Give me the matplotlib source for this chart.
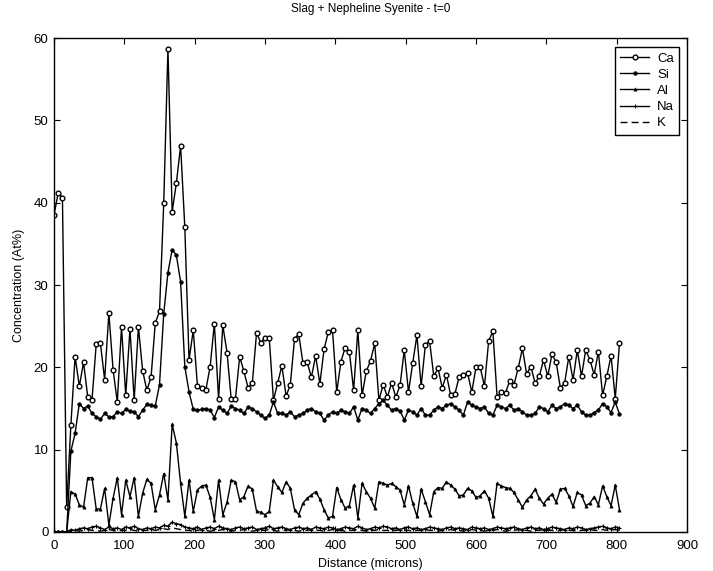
import numpy as np
import matplotlib
matplotlib.use("Agg")
import matplotlib.pyplot as plt

plt.rcParams['font.family'] = ['Liberation Sans', 'DejaVu Sans']

step = 6  # microns between analysis points

ca = [38.5, 41.2, 40.6, 3.0, 13.0, 21.3, 17.7, 20.6, 16.4, 16.0,
      22.8, 22.9, 18.5, 26.6, 19.7, 15.8, 24.9, 16.6, 24.7, 16.0,
      24.9, 19.6, 17.2, 18.8, 25.4, 26.8, 39.9, 58.7, 38.9, 42.4,
      46.9, 37.0, 20.9, 24.5, 17.7, 17.5, 17.3, 20.1, 25.3, 16.2,
      25.1, 21.8, 16.1, 16.2, 21.3, 19.5, 17.5, 18.1, 24.2, 23.0,
      23.6, 23.6, 16.0, 18.1, 20.2, 16.5, 17.9, 23.5, 24.0, 20.5,
      20.6, 18.8, 21.4, 18.0, 22.2, 24.3, 24.5, 17.0, 20.7, 22.4,
      21.9, 17.2, 24.5, 16.6, 19.5, 20.8, 22.9, 16.0, 17.9, 16.4,
      18.1, 16.4, 17.8, 22.1, 17.0, 20.5, 23.9, 17.7, 22.7, 23.2,
      18.9, 19.9, 17.5, 19.1, 16.6, 16.8, 18.8, 19.1, 19.3, 17.0,
      20.0, 20.0, 17.7, 23.2, 24.4, 16.4, 17.0, 16.9, 18.4, 17.9,
      19.9, 22.3, 19.2, 20.1, 18.1, 18.9, 20.9, 18.9, 21.6, 20.6,
      17.5, 18.1, 21.3, 18.5, 22.1, 18.9, 22.1, 20.9, 19.1, 21.9,
      16.6, 18.9, 21.4, 16.2, 22.9]

si = [0, 0, 0, 0, 9.8, 12.0, 15.6, 15.0, 15.3, 14.4,
      14.0, 13.7, 14.4, 14.0, 14.0, 14.6, 14.4, 14.9, 14.7, 14.6,
      14.0, 14.8, 15.5, 15.4, 15.3, 17.9, 26.5, 31.5, 34.3, 33.6,
      30.4, 20.1, 17.0, 14.9, 14.8, 14.9, 15.0, 14.8, 13.9, 15.2,
      14.8, 14.4, 15.3, 15.0, 14.8, 14.4, 15.2, 15.0, 14.6, 14.2,
      13.8, 14.2, 15.8, 14.4, 14.4, 14.2, 14.6, 14.0, 14.2, 14.4,
      14.8, 15.0, 14.6, 14.4, 13.6, 14.2, 14.6, 14.4, 14.8, 14.6,
      14.4, 15.2, 13.6, 15.0, 14.8, 14.4, 15.0, 15.6, 16.0, 15.4,
      14.8, 15.0, 14.7, 13.6, 14.8, 14.6, 14.2, 15.0, 14.2, 14.2,
      14.8, 15.2, 15.0, 15.4, 15.6, 15.2, 14.8, 14.2, 15.8, 15.4,
      15.2, 15.0, 15.2, 14.4, 14.2, 15.4, 15.2, 15.0, 15.4, 14.8,
      15.0, 14.6, 14.2, 14.2, 14.4, 15.2, 15.0, 14.6, 15.4, 15.0,
      15.2, 15.6, 15.4, 15.0, 15.4, 14.6, 14.2, 14.2, 14.5, 14.8,
      15.6, 15.2, 14.5, 15.8, 14.3]

al = [0, 0, 0, 0, 4.9, 4.6, 3.3, 3.0, 6.6, 6.6,
      2.8, 2.8, 5.3, 0.85, 4.1, 6.6, 2.1, 6.3, 4.3, 6.6,
      1.9, 4.7, 6.4, 5.9, 2.7, 4.5, 7.1, 3.9, 13.1, 10.8,
      5.9, 1.9, 6.3, 2.5, 5.1, 5.6, 5.7, 4.2, 1.5, 6.3,
      2.1, 3.6, 6.3, 6.1, 3.9, 4.3, 5.6, 5.2, 2.5, 2.4,
      2.1, 2.5, 6.3, 5.5, 4.8, 6.1, 5.3, 2.7, 2.1, 3.5,
      4.1, 4.5, 4.9, 4.0, 2.7, 1.7, 1.9, 5.4, 3.9, 2.9,
      3.2, 5.7, 1.7, 5.9, 4.9, 4.1, 2.9, 6.1, 5.9, 5.7,
      5.9, 5.5, 5.1, 3.3, 5.6, 3.5, 1.9, 5.2, 3.7, 2.1,
      4.9, 5.4, 5.3, 6.1, 5.7, 5.2, 4.4, 4.5, 5.3, 5.0,
      4.2, 4.4, 5.0, 4.1, 1.9, 5.9, 5.6, 5.4, 5.3, 4.8,
      3.9, 3.0, 3.9, 4.4, 5.2, 4.1, 3.4, 4.1, 4.6, 3.6,
      5.2, 5.3, 4.4, 3.1, 4.8, 4.5, 3.2, 3.5, 4.3, 3.3,
      5.6, 4.3, 3.2, 5.7, 2.7]

na = [0, 0, 0, 0, 0.3, 0.2, 0.4, 0.5, 0.4, 0.6,
      0.7, 0.5, 0.3, 0.6, 0.4, 0.5, 0.3, 0.6, 0.5, 0.7,
      0.4, 0.3, 0.5, 0.4, 0.6, 0.5, 0.8, 0.7, 1.2, 1.0,
      0.9, 0.6, 0.5, 0.4, 0.6, 0.3, 0.5, 0.6, 0.4, 0.7,
      0.5, 0.4, 0.3, 0.5, 0.6, 0.4, 0.5, 0.6, 0.3, 0.4,
      0.5, 0.7, 0.4, 0.5, 0.6, 0.4, 0.3, 0.5, 0.6, 0.4,
      0.5, 0.3, 0.6, 0.5, 0.4, 0.6, 0.5, 0.3, 0.4, 0.6,
      0.5, 0.4, 0.7, 0.5, 0.3, 0.4, 0.6, 0.5, 0.7, 0.6,
      0.4, 0.5, 0.3, 0.5, 0.6, 0.4, 0.5, 0.3, 0.4, 0.6,
      0.5, 0.4, 0.3, 0.5, 0.6, 0.4, 0.5, 0.4, 0.3, 0.6,
      0.5, 0.4, 0.5, 0.3, 0.4, 0.6, 0.5, 0.4, 0.5, 0.6,
      0.4, 0.3, 0.5, 0.6, 0.4, 0.5, 0.3, 0.4, 0.6, 0.5,
      0.4, 0.3, 0.5, 0.4, 0.6, 0.5, 0.3, 0.4, 0.5, 0.6,
      0.7, 0.5, 0.4, 0.6, 0.5]

k = [0, 0, 0, 0, 0.1, 0.2, 0.1, 0.2, 0.3, 0.2,
     0.2, 0.1, 0.2, 0.3, 0.2, 0.1, 0.2, 0.2, 0.3, 0.2,
     0.1, 0.2, 0.2, 0.3, 0.2, 0.3, 0.4, 0.3, 0.5, 0.4,
     0.3, 0.2, 0.2, 0.1, 0.2, 0.3, 0.2, 0.1, 0.2, 0.2,
     0.3, 0.2, 0.1, 0.2, 0.2, 0.3, 0.2, 0.1, 0.2, 0.2,
     0.2, 0.3, 0.2, 0.1, 0.2, 0.2, 0.3, 0.2, 0.1, 0.2,
     0.2, 0.3, 0.2, 0.2, 0.1, 0.2, 0.3, 0.2, 0.2, 0.1,
     0.2, 0.2, 0.3, 0.2, 0.1, 0.2, 0.2, 0.3, 0.2, 0.2,
     0.1, 0.2, 0.3, 0.2, 0.2, 0.1, 0.2, 0.2, 0.3, 0.2,
     0.2, 0.1, 0.2, 0.2, 0.3, 0.2, 0.2, 0.1, 0.2, 0.3,
     0.2, 0.2, 0.1, 0.2, 0.2, 0.3, 0.2, 0.1, 0.2, 0.2,
     0.3, 0.2, 0.2, 0.1, 0.2, 0.2, 0.3, 0.2, 0.2, 0.1,
     0.2, 0.3, 0.2, 0.2, 0.1, 0.2, 0.2, 0.3, 0.2, 0.2,
     0.3, 0.2, 0.2, 0.3, 0.2]

labels = ["Ca", "Si", "Al", "Na", "K"]
title = "Slag + Nepheline Syenite - t=0"
xlabel = "Distance (microns)"
ylabel = "Concentration (At%)"
xticks = [0, 100, 200, 300, 400, 500, 600, 700, 800, 900]
yticks = [0, 10, 20, 30, 40, 50, 60]

W, H = 713, 571
fig = plt.figure(figsize=(W / 100, H / 100), dpi=100)
ax = fig.add_axes([54 / W, (H - 532) / H, (687 - 54) / W, (532 - 38) / H])

def xs(series):
    return np.arange(len(series)) * step

lw = 1.0
ax.plot(xs(ca), ca, color='black', lw=lw, marker='o', ms=3.4,
        mfc='white', mec='black', mew=1.0, label=labels[0])
ax.plot(xs(si), si, color='black', lw=lw, marker='o', ms=2.5,
        mfc='black', mec='black', mew=0.6, label=labels[1])
ax.plot(xs(al), al, color='black', lw=lw, marker='^', ms=2.3,
        mfc='black', mec='black', mew=0.5, label=labels[2])
ax.plot(xs(na), na, color='black', lw=lw, marker='+', ms=3.5,
        mew=0.8, label=labels[3])
ax.plot(xs(k), k, color='black', lw=lw, ls=(0, (5, 3)), label=labels[4])

ax.set_xlim(0, 900)
ax.set_ylim(0, 60)
ax.set_xticks(xticks)
ax.set_yticks(yticks)
ax.tick_params(direction='in', length=4, width=0.8, top=True, right=True,
               labelsize=9.5, colors='black')
ax.tick_params(axis='x', pad=6)
ax.tick_params(axis='y', pad=4)
for sp in ax.spines.values():
    sp.set_linewidth(1.0)
    sp.set_color('black')

ax.set_title(title, fontsize=8.5, pad=19)
ax.set_xlabel(xlabel, fontsize=9, labelpad=4)
ax.set_ylabel(ylabel, fontsize=9, labelpad=6)

leg = ax.legend(loc='upper right', fontsize=9.5, frameon=True, fancybox=False,
                edgecolor='black', framealpha=1, handlelength=2.2,
                borderpad=0.4, labelspacing=0.3, handletextpad=0.6,
                bbox_to_anchor=(0.998, 0.995))
leg.get_frame().set_linewidth(1.0)

fig.savefig("out.png", dpi=100)
